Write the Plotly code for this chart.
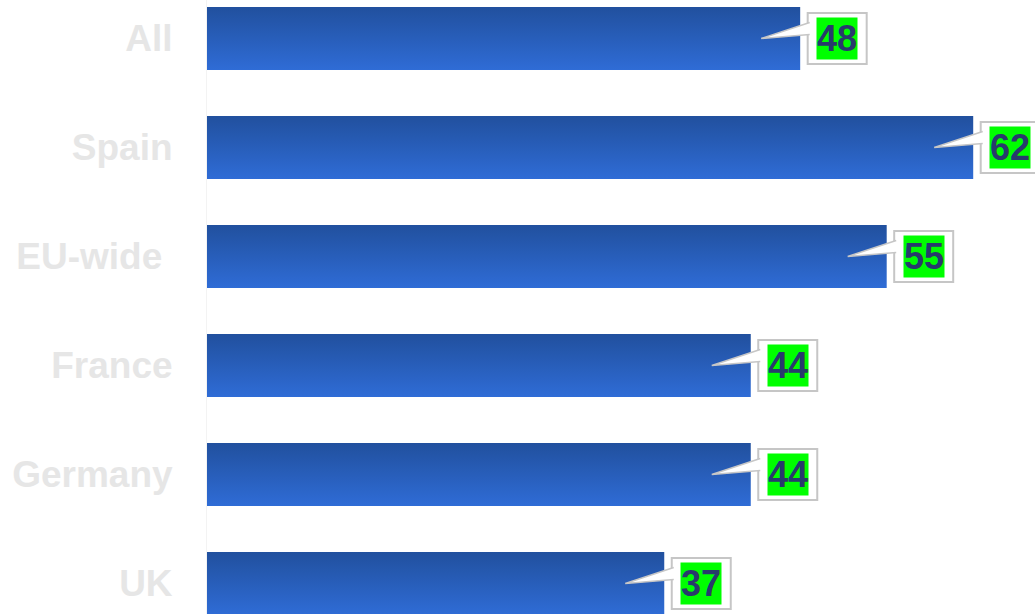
import plotly.graph_objects as go

categories = ["All", "Spain", "EU-wide", "France", "Germany", "UK"]
values = [48, 62, 55, 44, 44, 37]
tick_labels = ["All", "Spain", "EU-wide\u00a0", "France", "Germany", "UK"]

W, H = 1035, 614
ML = 207
X_RANGE = [0, 67]
PXY = 109.0
Y_RANGE = [5.280, -0.353]
PXX = (W - ML) / (X_RANGE[1] - X_RANGE[0])
HALF = 31.5 / PXY

BAR_TOP = "#21509e"
BAR_BOTTOM = "#2f6cd6"
FONT = "Liberation Sans, Arial, sans-serif"

fig = go.Figure()
for i, (c, v) in enumerate(zip(categories, values)):
    y0, y1 = i - HALF, i + HALF
    fig.add_trace(go.Scatter(
        x=[0, v, v, 0, 0], y=[y0, y0, y1, y1, y0],
        fill="toself", mode="lines", line=dict(width=0, color=BAR_BOTTOM),
        fillgradient=dict(type="vertical", colorscale=[[0, BAR_TOP], [1, BAR_BOTTOM]],
                          start=y0, stop=y1),
        hoverinfo="skip", showlegend=False, name=c))

shapes = []
annotations = []
for i, v in enumerate(values):
    bx0 = v + 7.5 / PXX
    bx1 = v + 66.5 / PXX
    shapes.append(dict(type="rect", xref="x", yref="y", x0=bx0, x1=bx1,
                       y0=i - 25.5 / PXY, y1=i + 25.5 / PXY,
                       line=dict(color="#c6c6c6", width=2), fillcolor="white", layer="above"))
    tipx, tipy = v - 39 / PXX, i
    basex = v + 9.5 / PXX
    path = f"M {basex},{i - 16 / PXY} L {tipx},{tipy} L {basex},{i - 4 / PXY}"
    shapes.append(dict(type="path", xref="x", yref="y", path=path,
                       line=dict(color="#c6c6c6", width=1.5), fillcolor="white", layer="above"))
    annotations.append(dict(x=v + 37 / PXX, y=i, xref="x", yref="y", text=str(v),
                            showarrow=False, xanchor="center", yanchor="middle",
                            bgcolor="#00ff00", borderpad=0,
                            font=dict(family=FONT, size=36, color="#283a6c", weight="bold")))

fig.update_layout(
    width=W, height=H, margin=dict(l=ML, r=0, t=0, b=0),
    paper_bgcolor="white", plot_bgcolor="white",
    shapes=shapes, annotations=annotations,
    xaxis=dict(range=X_RANGE, showgrid=False, zeroline=False, showticklabels=False,
               showline=False, fixedrange=True),
    yaxis=dict(range=Y_RANGE, tickvals=list(range(len(categories))), ticktext=tick_labels,
               showgrid=False, zeroline=False, showline=True, linecolor="#f3f3f3", linewidth=1,
               ticks="", ticklabelstandoff=26, fixedrange=True,
               tickfont=dict(family=FONT, size=37, color="#e6e6e6", weight="bold")),
)

fig.write_html("out.html", config={"displayModeBar": False},
               post_script="document.body.style.margin='0';document.body.style.overflow='hidden';")
